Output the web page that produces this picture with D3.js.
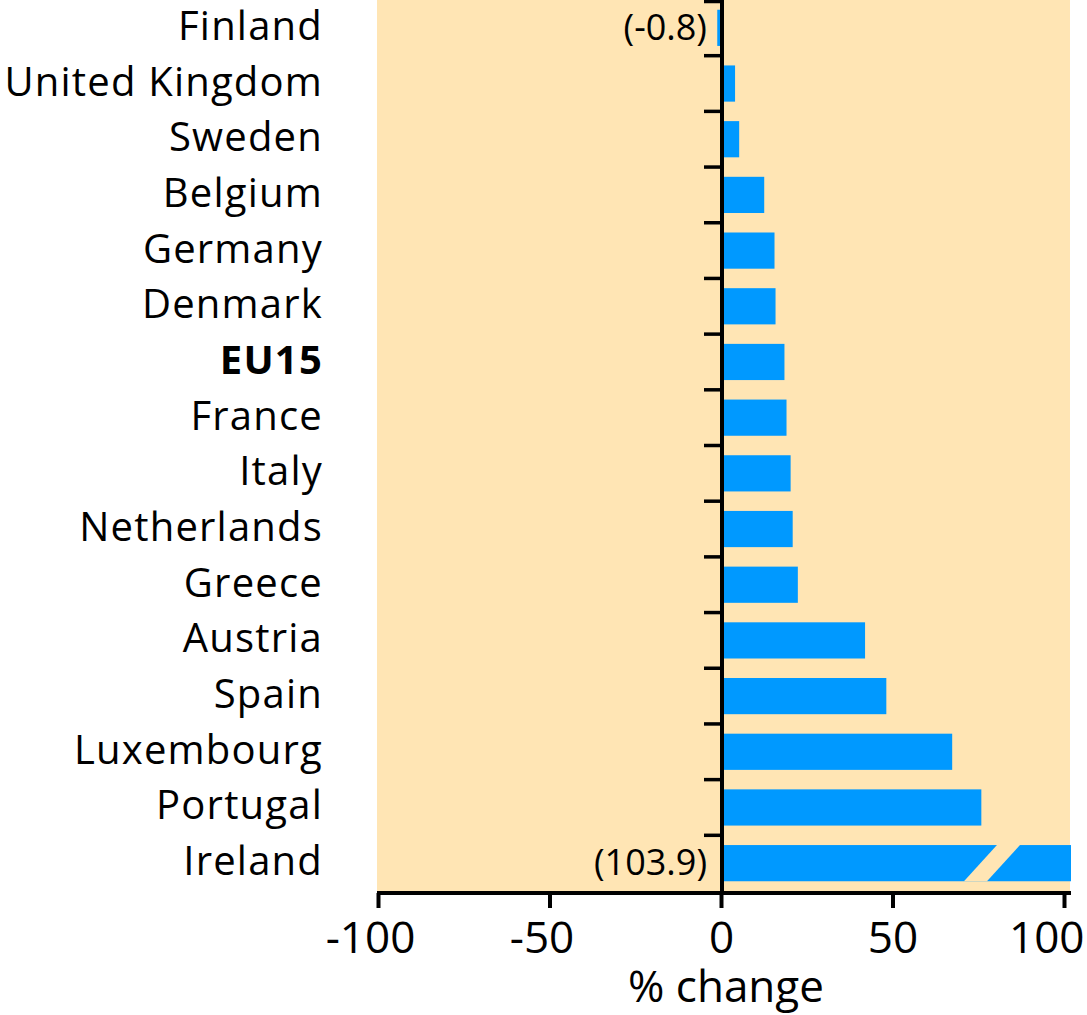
<!DOCTYPE html>
<html>
<head>
<meta charset="utf-8">
<script src="https://cdn.jsdelivr.net/npm/d3@7"></script>
<style>
  body { margin: 0; background: #fff; }
  text { font-family: "Open Sans", "Noto Sans", sans-serif; fill: #000; }
</style>
</head>
<body>
<script>
"use strict";
(function () {

// countries top to bottom, % change
const countries = ["Finland", "United Kingdom", "Sweden", "Belgium", "Germany", "Denmark",
    "EU15", "France", "Italy", "Netherlands", "Greece", "Austria", "Spain",
    "Luxembourg", "Portugal", "Ireland"]
const values = [-0.8, 4.1, 5.3, 12.6, 15.6, 15.9, 18.5, 19.1, 20.3, 20.9, 22.4,
    42.0, 48.2, 67.4, 75.9, 103.9]
const xTicks = [-100, -50, 0, 50, 100]
// bars that get a written value because they are too small or cut off
const noted = { "Finland": "(-0.8)", "Ireland": "(103.9)" }
const xMax = 100
const breakAt = 79

const m = { width: 1087, height: 1015 }
const bg = "#ffe5b4"

const svg = d3.select("body").append("svg")
    .attr("width", m.width)
    .attr("height", m.height)

const x = d3.scaleLinear()
    .domain([-100, 100])
    .range([378, 1064])

const y = d3.scaleBand()
    .domain(countries)
    .range([0, 891])
    .paddingInner(0.35)
    .paddingOuter(0.175)

const step = y.step()
const bandTop = d => y(d) - y.paddingOuter() * step
const x0 = x(0) + 1

// plot background
svg.append("rect")
    .attr("x", x(-100) - 1)
    .attr("y", 0)
    .attr("width", 1070 - x(-100) + 1)
    .attr("height", 891)
    .attr("fill", bg)

const data = countries.map((c, i) => ({ name: c, value: values[i] }))

// bars
svg.selectAll(".bar")
    .data(data)
    .enter()
    .append("rect")
    .attr("class", "bar")
    .attr("x", d => d.value < 0 ? x(d.value) - 1 : x0)
    .attr("y", d => y(d.name))
    .attr("width", d => d.value < 0 ? x0 - x(d.value) : (d.value > xMax ? 1071 : x(d.value)) - x0)
    .attr("height", y.bandwidth())
    .attr("fill", "#0099ff")

// break mark on Ireland bar
const ire = data.find(d => d.value > xMax)
const bx = x(breakAt), by0 = y(ire.name), by1 = y(ire.name) + y.bandwidth()
svg.append("polygon")
    .attr("points", [
        [bx + 5, by0], [bx + 28, by0], [bx - 5, by1], [bx - 28, by1]
    ].map(p => p.join(",")).join(" "))
    .attr("fill", bg)

// zero line with ticks at band edges
svg.append("line")
    .attr("x1", x0).attr("x2", x0)
    .attr("y1", 0).attr("y2", 893)
    .attr("stroke", "#000").attr("stroke-width", 4)

svg.selectAll(".ytick")
    .data(countries)
    .enter()
    .append("line")
    .attr("x1", x0 - 18).attr("x2", x0)
    .attr("y1", d => Math.max(bandTop(d), 1.5))
    .attr("y2", d => Math.max(bandTop(d), 1.5))
    .attr("stroke", "#000").attr("stroke-width", 3.5)

// country labels
svg.selectAll(".label")
    .data(countries)
    .enter()
    .append("text")
    .attr("x", 323)
    .attr("y", d => y(d) + y.bandwidth() / 2 + 12)
    .attr("text-anchor", "end")
    .style("font-size", "40px")
    .style("letter-spacing", "1.2px")
    .style("font-weight", d => d === "EU15" ? "bold" : "normal")
    .text(d => d)

// value notes
svg.selectAll(".note")
    .data(data.filter(d => noted[d.name]))
    .enter()
    .append("text")
    .attr("x", 707)
    .attr("y", d => y(d.name) + y.bandwidth() / 2 + 12)
    .attr("text-anchor", "end")
    .style("font-size", "36px")
    .text(d => noted[d.name])

// x axis
svg.append("line")
    .attr("x1", x(-100) - 1).attr("x2", 1071)
    .attr("y1", 893).attr("y2", 893)
    .attr("stroke", "#000").attr("stroke-width", 4)

const xAxis = svg.append("g")
    .attr("transform", "translate(0,893)")
    .call(d3.axisBottom(x).tickValues(xTicks).tickSize(15).tickSizeOuter(0)
        .tickFormat(d => String(d)))

xAxis.select(".domain").remove()
xAxis.selectAll(".tick line").attr("stroke", "#000").attr("stroke-width", 4)
xAxis.selectAll(".tick text")
    .attr("y", 29)
    .attr("dy", "0.71em")
    .attr("x", d => d < 0 ? -8 : (d === xMax ? 20 : 0))
    .attr("text-anchor", d => d === xMax ? "end" : "middle")
    .style("font-size", "44px")
    .style("font-family", "'Open Sans', 'Noto Sans', sans-serif")
    .attr("fill", "#000")

svg.append("text")
    .attr("x", 726)
    .attr("y", 1002)
    .attr("text-anchor", "middle")
    .style("font-size", "44px")
    .text("% change")

})();
</script>
</body>
</html>
